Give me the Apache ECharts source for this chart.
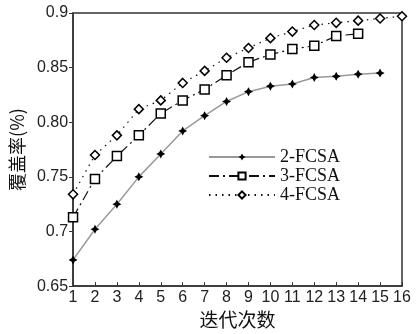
<!DOCTYPE html>
<html><head><meta charset="utf-8">
<script src="https://cdn.jsdelivr.net/npm/echarts@6/dist/echarts.min.js"></script>
<style>html,body{margin:0;padding:0;background:#fff}#c{width:417px;height:334px}</style>
</head><body><div id="c"></div>
<script>
const iterations = [1,2,3,4,5,6,7,8,9,10,11,12,13,14,15,16];
const fcsa2 = [0.674,0.702,0.725,0.750,0.771,0.792,0.806,0.819,0.828,0.833,0.835,0.841,0.842,0.844,0.845];
const fcsa3 = [0.713,0.748,0.769,0.788,0.808,0.820,0.830,0.843,0.855,0.862,0.867,0.870,0.879,0.881];
const fcsa4 = [0.734,0.770,0.788,0.812,0.820,0.836,0.847,0.859,0.868,0.877,0.883,0.889,0.891,0.893,0.895,0.897];
const yTickLabels = {"0.65":"0.65","0.7":"0.7","0.75":"0.75","0.8":"0.80","0.85":"0.85","0.9":"0.9"};
const seriesNames = ["2-FCSA","3-FCSA","4-FCSA"];

const pair = (vals) => vals.map((v,i)=>[iterations[i], v]);
const star = 'path://M0,-10 L3.5,-3.5 L10,0 L3.5,3.5 L0,10 L-3.5,3.5 L-10,0 L-3.5,-3.5 Z';

const chart = echarts.init(document.getElementById('c'));
chart.setOption({
  animation:false,
  backgroundColor:'#fff',
  grid:{left:71,right:15,top:13,bottom:35,show:true,borderColor:'#333',borderWidth:1.5,backgroundColor:'transparent'},
  legend:{
    orient:'vertical', left:203, top:143, itemWidth:66, itemHeight:9, itemGap:1,
    textStyle:{fontFamily:'Liberation Serif',fontSize:18,lineHeight:18,color:'#111'},
    data:seriesNames
  },
  xAxis:{
    type:'value', min:1, max:16, interval:1,
    name:'迭代次数', nameLocation:'middle', nameGap:18,
    nameTextStyle:{fontFamily:'Noto Sans CJK SC',fontSize:19,color:'#111'},
    axisLine:{lineStyle:{color:'#333',width:1.5}},
    axisTick:{show:true,inside:true,length:4,lineStyle:{color:'#333'}},
    axisLabel:{fontFamily:'Liberation Sans',fontSize:16,color:'#222',margin:3},
    splitLine:{show:false}
  },
  yAxis:{
    type:'value', min:0.65, max:0.9, interval:0.05,
    name:'覆盖率(%)', nameLocation:'middle', nameGap:45, nameRotate:90,
    nameTextStyle:{fontFamily:'Noto Sans CJK SC',fontSize:18,color:'#111'},
    axisLine:{lineStyle:{color:'#333',width:1.5}},
    axisTick:{show:true,inside:false,length:4,lineStyle:{color:'#333'}},
    axisLabel:{fontFamily:'Liberation Sans',fontSize:16,color:'#222',margin:5,
      formatter:(v)=>{const k=String(Math.round(v*100)/100);return yTickLabels[k]!==undefined?yTickLabels[k]:k;}},
    splitLine:{show:false}
  },
  series:[
    {name:seriesNames[0],type:'line',data:pair(fcsa2),symbol:star,symbolSize:9,
     itemStyle:{color:'#000'},lineStyle:{color:'#999',width:1.5,type:'solid'}},
    {name:seriesNames[1],type:'line',data:pair(fcsa3),symbol:'rect',symbolSize:9,
     itemStyle:{color:'#fff',borderColor:'#000',borderWidth:1.5},
     lineStyle:{color:'#111',width:1.2,type:[10,4,2,4]}},
    {name:seriesNames[2],type:'line',data:pair(fcsa4),symbol:'diamond',symbolSize:9,
     itemStyle:{color:'#fff',borderColor:'#000',borderWidth:1.5},
     lineStyle:{color:'#111',width:1.2,type:[1.5,5]}}
  ]
});
</script></body></html>
